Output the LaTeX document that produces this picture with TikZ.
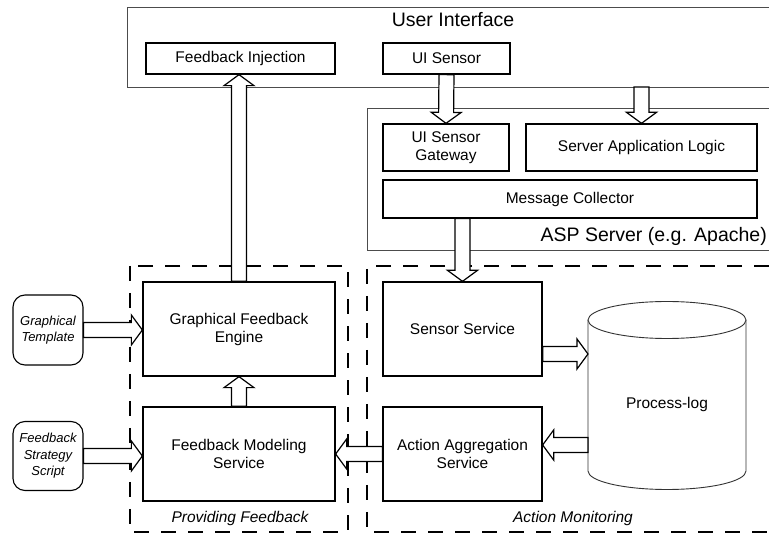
\documentclass[tikz,border=0pt]{standalone}
\usepackage{fontspec}
\setmainfont{Liberation Sans}
\usetikzlibrary{calc}
\tikzset{
  box/.style={draw=black, line width=1.3pt, fill=white, inner sep=0pt, align=center,
    font=\fontsize{15.5}{18}\selectfont},
  srcbox/.style={draw=black, line width=1.1pt, rounded corners=12pt, fill=white, inner sep=0pt,
    align=center, font=\fontsize{13}{16.5}\selectfont\itshape},
  outerbox/.style={draw=black!70, line width=0.9pt},
  dashbox/.style={draw=black, line width=2.2pt, dash pattern=on 15pt off 12pt},
  bigtitle/.style={inner sep=0pt, font=\fontsize{19.5}{22}\selectfont},
  grouptitle/.style={inner sep=0pt, font=\fontsize{15.5}{18}\selectfont\itshape},
  blk/.style={draw=black, fill=white, line width=1.2pt, line join=miter,
    to path={
      ($(\tikztostart)!7.5pt!90:(\tikztotarget)$) --
      ($ ($(\tikztotarget)!11pt!(\tikztostart)$) !7.5pt!90:(\tikztotarget) $) --
      ($ ($(\tikztotarget)!11pt!(\tikztostart)$) !15pt!90:(\tikztotarget) $) --
      (\tikztotarget) --
      ($ ($(\tikztotarget)!11pt!(\tikztostart)$) !15pt!-90:(\tikztotarget) $) --
      ($ ($(\tikztotarget)!11pt!(\tikztostart)$) !7.5pt!-90:(\tikztotarget) $) --
      ($(\tikztostart)!7.5pt!-90:(\tikztotarget)$) -- cycle
    }},
}
\begin{document}
\begin{tikzpicture}[x=1pt, y=-1pt]
\useasboundingbox (0,0) rectangle (769,534);

% outer containers
\draw[outerbox, fill=white] (769,7) -- (127,7) -- (127,87) -- (769,87);
\draw[outerbox, fill=white] (769,108) -- (367,108) -- (367,250) -- (769,250);
\node[bigtitle] (uititle) at (453,20) {User Interface};
\node[bigtitle, anchor=base east] (asptitle) at (767,242) {ASP Server (e.g. Apache)};

% dashed groups
\draw[dashbox] (130,266) rectangle (348,532);
\draw[dashbox] (769,266) -- (367,266) -- (367,532) -- (769,532);
\node[grouptitle] (pftitle) at (240,518) {Providing Feedback};
\node[grouptitle] (amtitle) at (573,518) {Action Monitoring};

% boxes
\node[box, minimum width=189pt, minimum height=31pt] (FI) at (240.5,58.5) {Feedback Injection};
\node[box, minimum width=127pt, minimum height=31pt] (UIS) at (446.5,58.5) {UI Sensor};
\node[box, minimum width=126pt, minimum height=47pt] (UISG) at (446,147.5) {UI Sensor\\Gateway};
\node[box, minimum width=231pt, minimum height=47pt] (SAL) at (641.5,147.5) {Server Application Logic};
\node[box, minimum width=374pt, minimum height=38pt] (MC) at (570,199) {Message Collector};
\node[box, minimum width=192pt, minimum height=94pt] (GFE) at (239,329) {Graphical Feedback\\Engine};
\node[box, minimum width=192pt, minimum height=94pt] (FMS) at (239,454) {Feedback Modeling\\Service};
\node[box, minimum width=159pt, minimum height=94pt] (SS) at (462.5,329) {Sensor Service};
\node[box, minimum width=159pt, minimum height=94pt] (AAS) at (462.5,454) {Action Aggregation\\Service};
\node[srcbox, minimum width=70pt, minimum height=70pt] (GT) at (48,330) {Graphical\\Template};
\node[srcbox, minimum width=70pt, minimum height=69pt] (FSS) at (48,456) {Feedback\\Strategy\\Script};

% process log cylinder
\draw[black!80, line width=0.9pt, fill=white]
  (588,320) -- (588,471) arc[start angle=180, end angle=360, x radius=79pt, y radius=18.5pt] -- (746,320);
\draw[black!80, line width=0.9pt, fill=white] (667,320) ellipse[x radius=79pt, y radius=18.5pt];
\node[inner sep=0pt, font=\fontsize{15.5}{18}\selectfont] (PL) at (667,404) {Process-log};
\coordinate (plin) at (588,354);
\coordinate (plout) at (588,445);
\coordinate (uibot) at (641.5,87);

% block arrows
\draw[blk] (GFE.north) to (GFE.north |- FI.south);
\draw[blk] (FMS.north) to (GFE.south);
\draw[blk] (UIS.south) to (UISG.north);
\draw[blk] (uibot) to (SAL.north);
\draw[blk] (SS.north |- MC.south) to (SS.north);
\draw[blk] (GT.east) to (GT.east -| GFE.west);
\draw[blk] (FSS.east) to (FSS.east -| FMS.west);
\draw[blk] (SS.east |- plin) to (plin);
\draw[blk] (plout) to (AAS.east |- plout);
\draw[blk] (AAS.west) to (FMS.east);
\end{tikzpicture}
\end{document}
